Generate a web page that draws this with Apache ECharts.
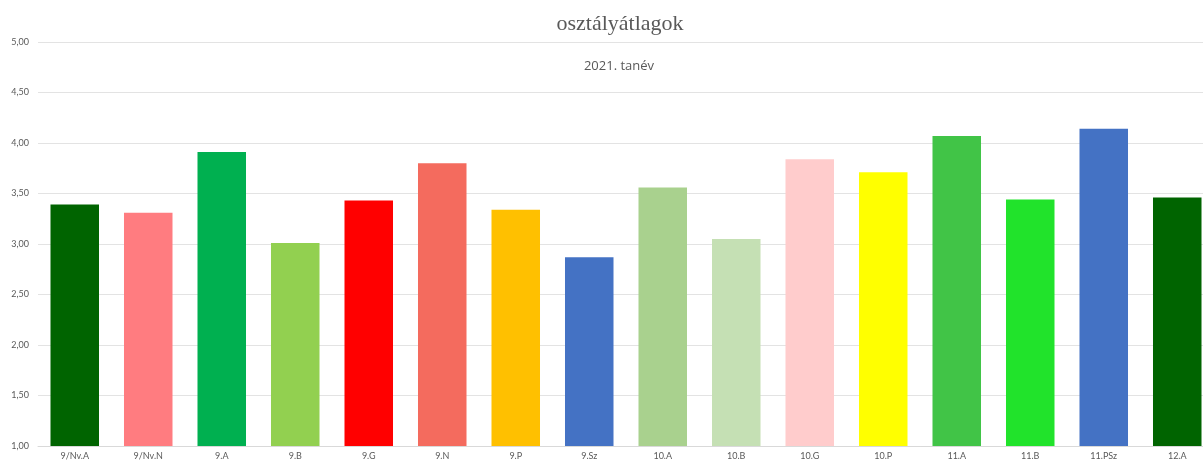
<!DOCTYPE html>
<html>
<head>
<meta charset="utf-8">
<script src="https://cdn.jsdelivr.net/npm/echarts@6/dist/echarts.min.js"></script>
<style>
  html, body { margin: 0; padding: 0; background: #fff; overflow: hidden; }
  /* the original chart is cut off on the right, so the canvas is a bit wider than the window */
  #chart { width: 1214px; height: 462px; }
</style>
</head>
<body>
<div id="chart"></div>
<script>
// class names and their averages
const classes = ['9/Nv.A', '9/Nv.N', '9.A', '9.B', '9.G', '9.N', '9.P', '9.Sz',
  '10.A', '10.B', '10.G', '10.P', '11.A', '11.B', '11.PSz', '12.A'];
const averages = [3.39, 3.31, 3.91, 3.01, 3.43, 3.80, 3.34, 2.87,
  3.56, 3.05, 3.84, 3.71, 4.07, 3.44, 4.14, 3.46];
const barColors = ['#006400', '#FF7C80', '#00B050', '#92D050', '#FF0000', '#F46B5E', '#FFC000', '#4472C4',
  '#A9D18E', '#C5E0B4', '#FFCCCC', '#FFFF00', '#41C447', '#21E32B', '#4472C4', '#006400'];

const chart = echarts.init(document.getElementById('chart'));

const option = {
  animation: false,
  title: [
    {
      text: 'osztályátlagok',
      left: 615,
      top: 8,
      textAlign: 'center',
      textStyle: { fontFamily: 'Liberation Serif', fontSize: 22, fontWeight: 'normal', color: '#595959' }
    },
    {
      text: '2021. tanév',
      left: 614,
      top: 55,
      textAlign: 'center',
      textStyle: { fontFamily: 'Open Sans', fontSize: 13, fontWeight: 'normal', color: '#595959' }
    }
  ],
  grid: { left: 38, top: 42, right: 0, bottom: 16, containLabel: false },
  xAxis: {
    type: 'category',
    data: classes,
    axisLine: { lineStyle: { color: '#D9D9D9' } },
    axisTick: { show: false },
    axisLabel: { interval: 0, fontFamily: 'Lato', fontSize: 9, color: '#595959', margin: 6 }
  },
  yAxis: {
    type: 'value',
    min: 1,
    max: 5,
    interval: 0.5,
    axisLine: { show: false },
    axisTick: { show: false },
    splitLine: { lineStyle: { color: '#E3E3E3' } },
    axisLabel: {
      fontFamily: 'Lato', fontSize: 9, color: '#595959', margin: 9,
      formatter: v => v.toFixed(2).replace('.', ',')
    }
  },
  series: [{
    type: 'bar',
    data: averages.map((v, i) => ({ value: v, itemStyle: { color: barColors[i] } })),
    barWidth: '66%'
  }]
};

chart.setOption(option);
</script>
</body>
</html>
